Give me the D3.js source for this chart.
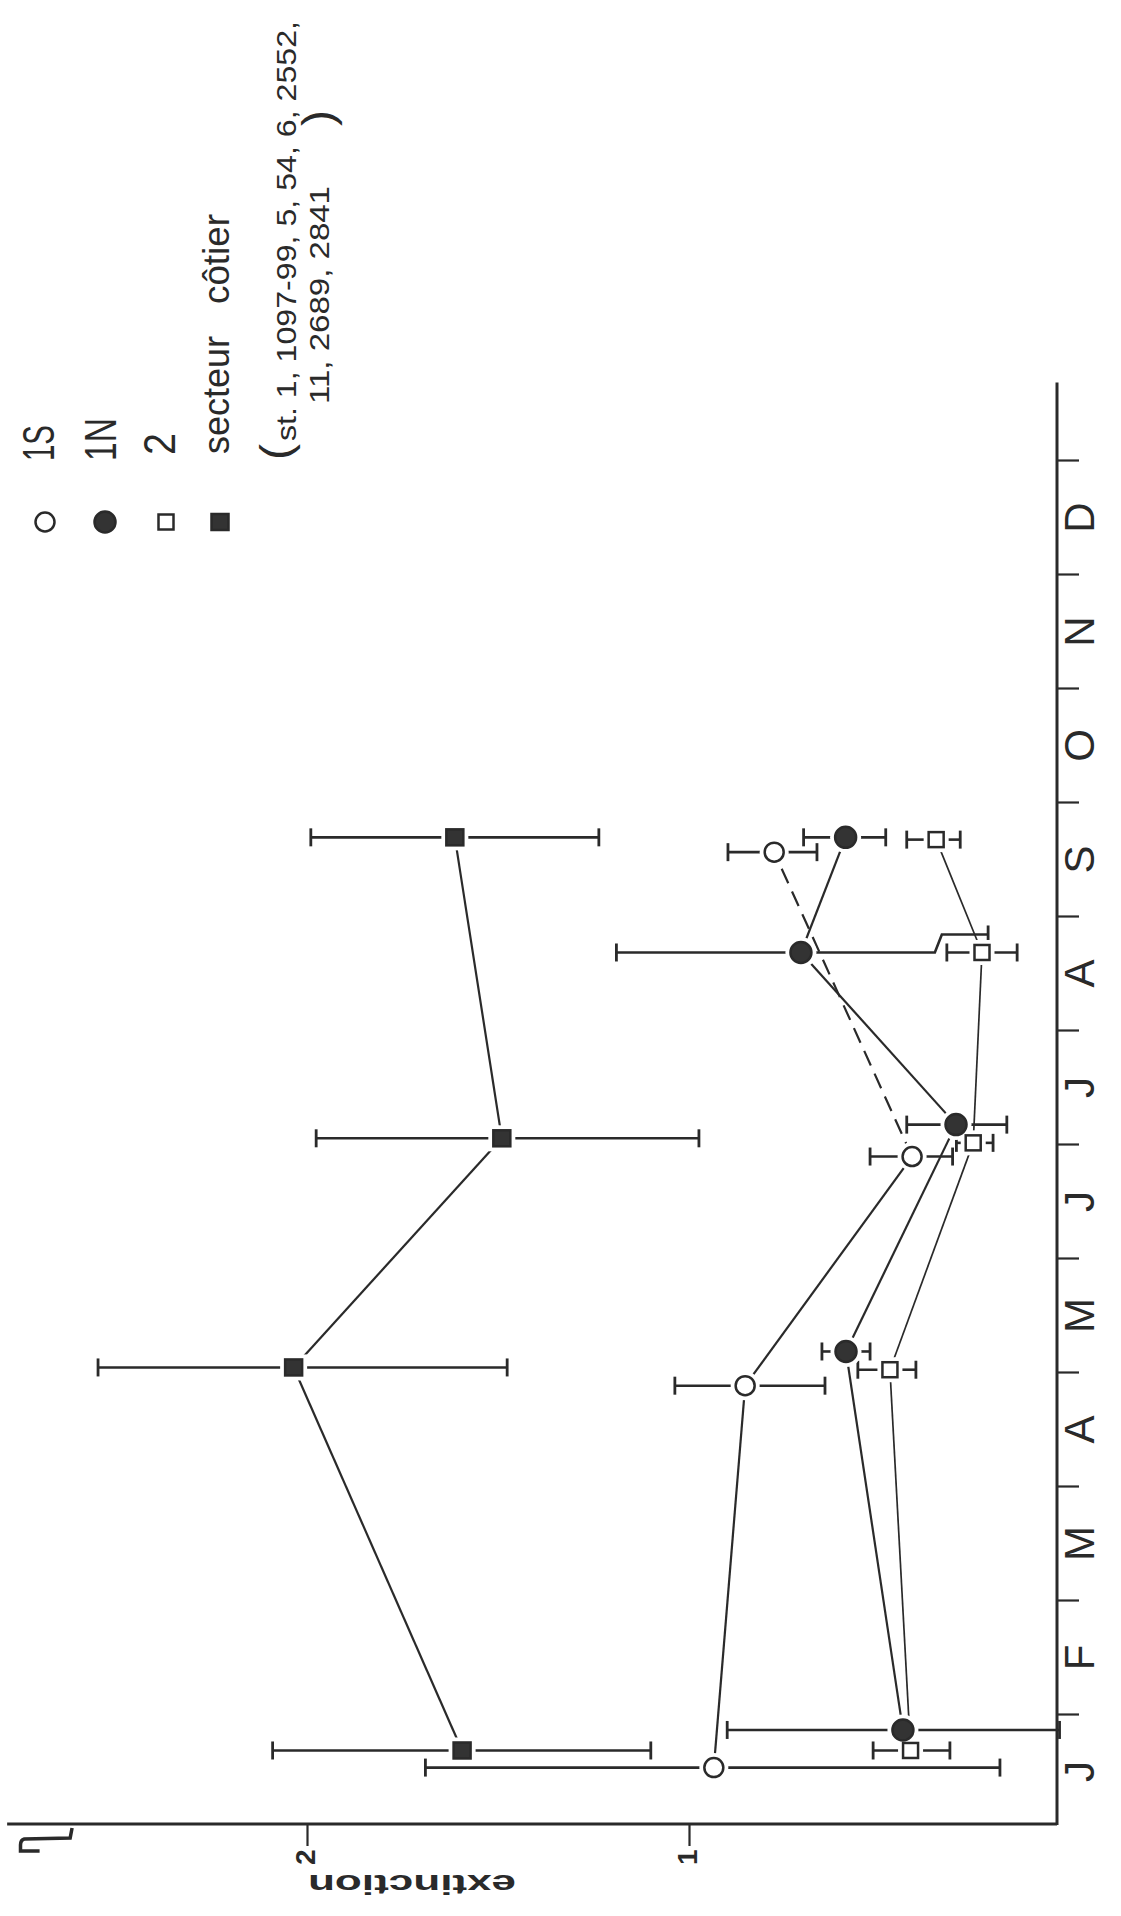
<!DOCTYPE html>
<html>
<head>
<meta charset="utf-8">
<script src="https://cdn.jsdelivr.net/npm/d3@7"></script>
<style>
    body { margin: 0; background: #fff; }
    text { font-family: "Liberation Sans", Arial, sans-serif; fill: #2a2a2a; }
</style>
</head>
<body>
<div id="chart"></div>
<script>
// Month initials along the time axis (the figure is printed turned a quarter turn)
const months = ["J", "F", "M", "A", "M", "J", "J", "A", "S", "O", "N", "D"];
const valueTicks = [1, 2];

// Station 1S (open circles) - month as fractional month from 1 January
const s1S_month = [0.53, 3.88, 5.89, 8.56];
const s1S_value = [0.935, 0.853, 0.416, 0.777];
const s1S_low = [0.186, 0.644, 0.31, 0.665];
const s1S_high = [1.69, 1.037, 0.526, 0.898];
const s1S_style = ["solid", "solid", "dashed"];

// Station 1N (filled circles)
const s1N_month = [0.86, 4.18, 6.17, 7.68, 8.69];
const s1N_value = [0.44, 0.589, 0.301, 0.707, 0.59];
const s1N_low = [0.03, 0.526, 0.168, 0.217, 0.485];
const s1N_high = [0.90, 0.652, 0.43, 1.19, 0.70];
const s1N_style = ["solid", "solid", "solid", "solid"];

// Station 2 (open squares)
const s2_month = [0.68, 4.02, 6.01, 7.68, 8.67];
const s2_value = [0.42, 0.474, 0.256, 0.233, 0.353];
const s2_low = [0.317, 0.406, 0.204, 0.141, 0.29];
const s2_high = [0.518, 0.558, 0.30, 0.325, 0.43];
const s2_style = ["solid", "solid", "solid", "solid"];

// Coastal sector (filled squares)
const sC_month = [0.68, 4.04, 6.05, 8.69];
const sC_value = [1.594, 2.035, 1.49, 1.613];
const sC_low = [1.10, 1.476, 0.974, 1.236];
const sC_high = [2.09, 2.547, 1.976, 1.99];
const sC_style = ["solid", "solid", "solid"];

const legendNames = ["1S", "1N", "2", "secteur", "côtier"];
const stationNote = ["(", "st. 1, 1097-99, 5, 54, 6, 2552,", "11, 2689, 2841", ")"];

const series = [
    { name: "1S", shape: "circleOpen", month: s1S_month, value: s1S_value, low: s1S_low, high: s1S_high, style: s1S_style, lw: 2.2 },
    { name: "1N", shape: "circleFull", month: s1N_month, value: s1N_value, low: s1N_low, high: s1N_high, style: s1N_style, lw: 2.2 },
    { name: "2", shape: "squareOpen", month: s2_month, value: s2_value, low: s2_low, high: s2_high, style: s2_style, lw: 1.7 },
    { name: "C", shape: "squareFull", month: sC_month, value: sC_value, low: sC_low, high: sC_high, style: sC_style, lw: 2.2 }
];

const ink = "#2a2a2a";
const width = 1121, height = 1916;
const axisX = 1057, axisY = 1824;

const svg = d3.select("#chart").append("svg")
    .attr("width", width)
    .attr("height", height);
svg.append("rect").attr("width", width).attr("height", height).attr("fill", "#fff");

// Scales: months run upward, extinction runs leftward
const monthScale = d3.scaleLinear().domain([0, 12]).range([1828, 460]);
const valueScale = d3.scaleLinear().domain([0, 2]).range([1071, 307]);

// Month axis (right side)
const mAxis = svg.append("g").attr("transform", `translate(${axisX},0)`)
    .call(d3.axisRight(monthScale).tickValues(d3.range(1, 13)).tickSize(22).tickFormat(""));
mAxis.select(".domain").remove();
mAxis.selectAll(".tick line").attr("stroke", ink).attr("stroke-width", 2.2);

svg.append("line")
    .attr("x1", axisX).attr("x2", axisX)
    .attr("y1", axisY + 1).attr("y2", monthScale(12.68))
    .attr("stroke", ink).attr("stroke-width", 3);

const mLabels = svg.append("g").attr("transform", `translate(${axisX},0)`)
    .call(d3.axisRight(monthScale).tickValues(d3.range(12).map(i => i + 0.5)).tickSize(0)
        .tickFormat((d, i) => months[i]));
mLabels.select(".domain").remove();
mLabels.selectAll(".tick text")
    .attr("x", 0).attr("y", 37).attr("dy", 0)
    .attr("transform", "rotate(-90)")
    .attr("text-anchor", "middle")
    .attr("font-size", 42)
    .attr("fill", ink);

// Extinction axis (bottom)
const vAxis = svg.append("g").attr("transform", `translate(0,${axisY})`)
    .call(d3.axisBottom(valueScale).tickValues(valueTicks).tickSize(22).tickFormat(d3.format("d")));
vAxis.select(".domain").remove();
vAxis.selectAll(".tick line").attr("stroke", ink).attr("stroke-width", 2.2);
vAxis.selectAll(".tick text")
    .attr("x", -41).attr("y", 7).attr("dy", 0)
    .attr("transform", "rotate(-90)")
    .attr("text-anchor", "start")
    .attr("font-size", 28)
    .attr("font-weight", "bold")
    .attr("fill", ink);

svg.append("line")
    .attr("x1", valueScale(2.785)).attr("x2", axisX)
    .attr("y1", axisY).attr("y2", axisY)
    .attr("stroke", ink).attr("stroke-width", 3);

// small hook at the far end of the extinction axis
svg.append("path")
    .attr("d", `M${valueScale(2.615)},${axisY + 4} L${valueScale(2.62)},${axisY + 14} L${valueScale(2.74)},${axisY + 15} Q${valueScale(2.75)},${axisY + 16} ${valueScale(2.75)},${axisY + 21} L${valueScale(2.75)},${axisY + 27} L${valueScale(2.70)},${axisY + 27}`)
    .attr("fill", "none").attr("stroke", ink).attr("stroke-width", 3.5);

svg.append("text")
    .attr("transform", `translate(${valueScale(1.725)},${axisY + 51}) rotate(180)`)
    .attr("text-anchor", "middle")
    .attr("font-size", 28)
    .attr("font-weight", "bold")
    .attr("textLength", 208)
    .attr("lengthAdjust", "spacingAndGlyphs")
    .attr("fill", ink)
    .text("extinction");

// Build point list
const points = [];
series.forEach((s, si) => {
    s.month.forEach((m, i) => {
        points.push({
            si: si, i: i,
            x: valueScale(s.value[i]), y: monthScale(m),
            xl: valueScale(s.low[i]), xh: valueScale(s.high[i])
        });
    });
});

// Connecting lines
const line = d3.line().x(d => d[0]).y(d => d[1]);
series.forEach((s, si) => {
    const pts = points.filter(p => p.si === si);
    for (let k = 0; k < pts.length - 1; k++) {
        svg.append("path")
            .attr("d", line([[pts[k].x, pts[k].y], [pts[k + 1].x, pts[k + 1].y]]))
            .attr("fill", "none")
            .attr("stroke", ink)
            .attr("stroke-width", s.lw)
            .attr("stroke-dasharray", s.style[k] === "dashed" ? "16,9" : null);
    }
});

// Error bars; a whisker that runs across another point hops over that point's bar
function whisker(p, xEnd) {
    const lo = Math.min(p.x, xEnd), hi = Math.max(p.x, xEnd);
    const other = points.find(q => q.si !== p.si && Math.abs(q.y - p.y) < 10 && q.x > lo + 12 && q.x < hi);
    if (!other) {
        return { d: line([[p.x, p.y], [xEnd, p.y]]), capY: p.y };
    }
    const dir = xEnd > p.x ? 1 : -1;
    const edge = dir > 0 ? Math.min(other.xl, other.xh) : Math.max(other.xl, other.xh);
    const j0 = edge - dir * 12, j1 = edge - dir * 5, yj = p.y - 18;
    return { d: line([[p.x, p.y], [j0, p.y], [j1, yj], [xEnd, yj]]), capY: yj };
}

const bars = svg.append("g");
points.forEach(p => {
    [p.xl, p.xh].forEach(xe => {
        const w = whisker(p, xe);
        bars.append("path").attr("d", w.d)
            .attr("fill", "none").attr("stroke", ink).attr("stroke-width", 2.6);
        bars.append("line")
            .attr("x1", xe).attr("x2", xe)
            .attr("y1", w.capY - 9).attr("y2", w.capY + 9)
            .attr("stroke", ink).attr("stroke-width", 2.8);
    });
});

// Markers
function drawMarker(g, shape, x, y, halo) {
    const pad = halo ? 5 : 0;
    const fill = halo ? "#fff" : (shape.endsWith("Full") ? "#333" : "#fff");
    const stroke = halo ? "none" : ink;
    if (shape.startsWith("circle")) {
        g.append("circle").attr("cx", x).attr("cy", y)
            .attr("r", (shape === "circleFull" ? 10.5 : 9.5) + pad)
            .attr("fill", fill).attr("stroke", stroke).attr("stroke-width", 2.5);
    } else {
        const w = (shape === "squareFull" ? 17 : 15) + 2 * pad;
        const h = (shape === "squareFull" ? 16 : 15) + 2 * pad;
        g.append("rect").attr("x", x - w / 2).attr("y", y - h / 2)
            .attr("width", w).attr("height", h)
            .attr("fill", fill).attr("stroke", stroke).attr("stroke-width", 2.5);
    }
}

const halos = svg.append("g");
const marks = svg.append("g");
points.forEach(p => drawMarker(halos, series[p.si].shape, p.x, p.y, true));
points.forEach(p => drawMarker(marks, series[p.si].shape, p.x, p.y, false));

// Legend (rotated like the rest of the figure)
const legend = svg.append("g");
const legendX = [45, 105, 166, 220];
series.forEach((s, i) => drawMarker(legend, s.shape, legendX[i], 522, false));

function vText(x, y, str, size, len) {
    const t = legend.append("text")
        .attr("transform", `translate(${x},${y}) rotate(-90)`)
        .attr("text-anchor", "start")
        .attr("font-size", size)
        .attr("fill", ink)
        .text(str);
    if (len) t.attr("textLength", len).attr("lengthAdjust", "spacingAndGlyphs");
    return t;
}

vText(54, 461, legendNames[0], 44, 36);
vText(116, 461, legendNames[1], 44, 43);
vText(175, 455, legendNames[2], 44, 22);
vText(229, 454, legendNames[3], 36, 118);
vText(229, 304, legendNames[4], 36, 90);
vText(291, 460, stationNote[0], 44, 16);
vText(296, 441, stationNote[1], 28, 420);
vText(329, 404, stationNote[2], 28, 218);
vText(333, 126, stationNote[3], 44, 16);
</script>
</body>
</html>
